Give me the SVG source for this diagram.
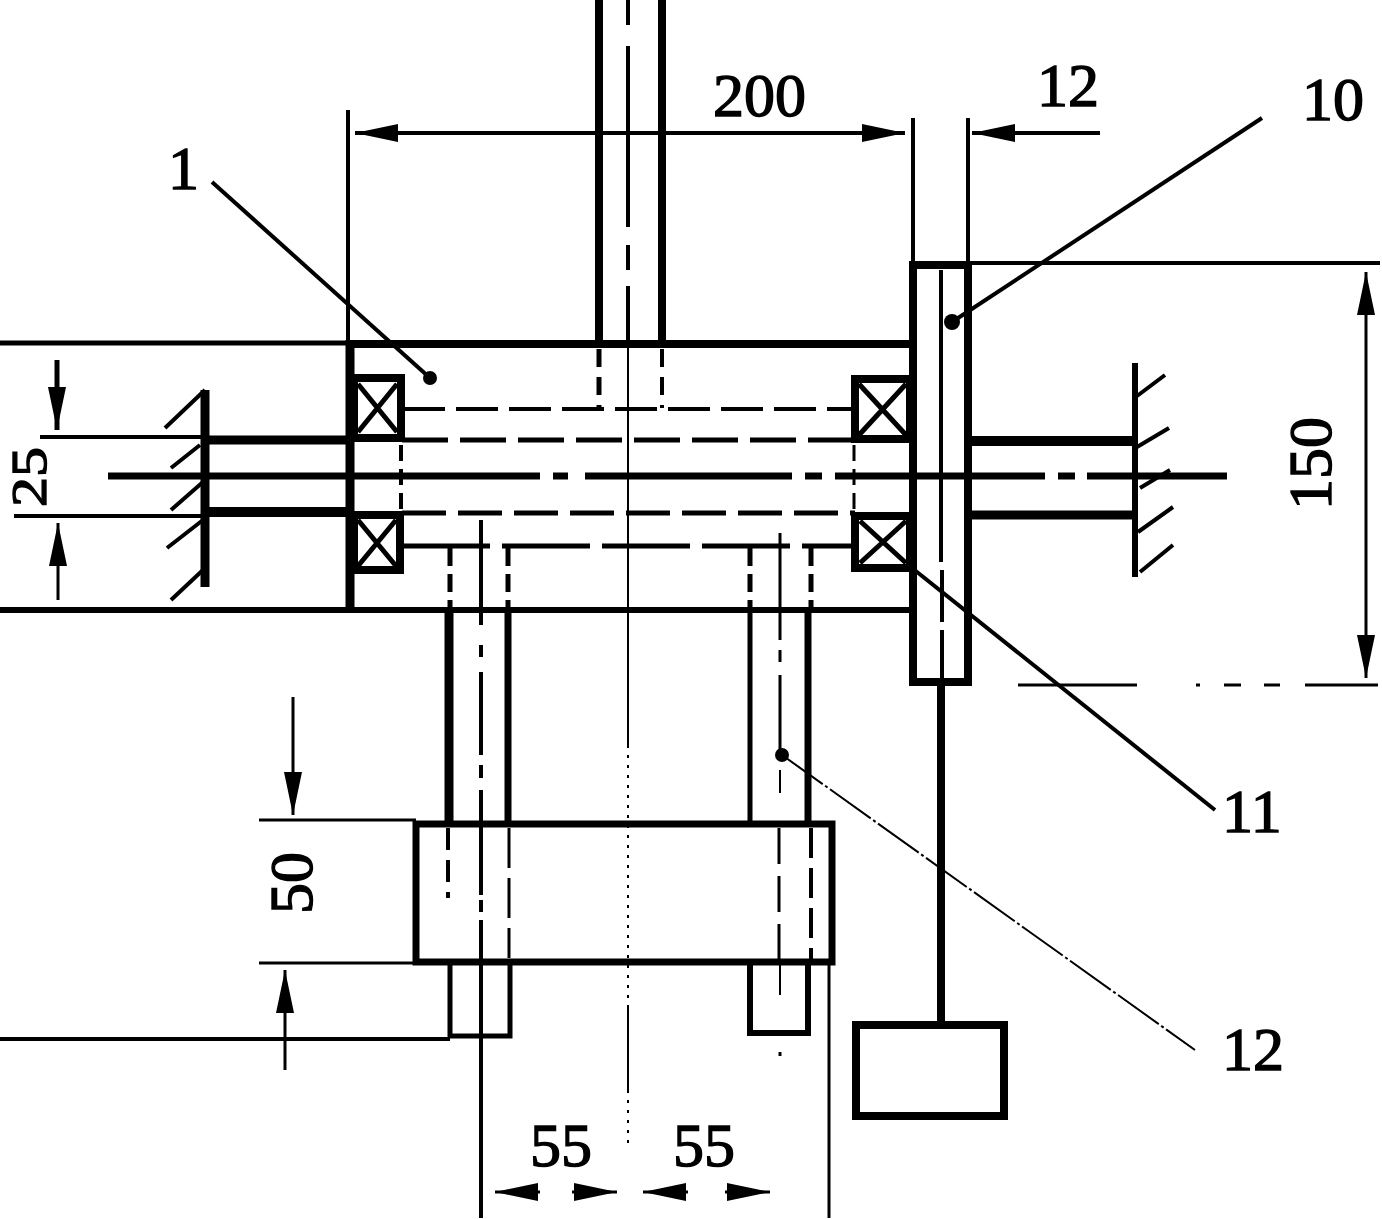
<svg xmlns="http://www.w3.org/2000/svg" width="1382" height="1219" viewBox="0 0 1382 1219">
<defs>
<marker id="ah" markerUnits="userSpaceOnUse" markerWidth="44" markerHeight="22" refX="43" refY="11" orient="auto-start-reverse"><path d="M0 2 L43 11 L0 20 Z" fill="#000"/></marker>
</defs>
<style>
line,path,rect{stroke:#000;fill:none;stroke-linecap:butt}
marker path{stroke:none;fill:#000}
.t1{stroke-width:2}.t2{stroke-width:3}.t3{stroke-width:4}.t5{stroke-width:5}.t6{stroke-width:6}.t7{stroke-width:7}.t8{stroke-width:8}.t9{stroke-width:9}.t10{stroke-width:10}
.a{marker-end:url(#ah)}
text{font-family:"Liberation Serif","Times New Roman",serif;font-size:62px;fill:#000;stroke:#000;stroke-width:1.4}
</style>
<rect width="1382" height="1219" fill="#fff" style="stroke:none"/>
<g id="housing">
<line class="t5" x1="0" y1="343" x2="346" y2="343"/><line class="t8" x1="346" y1="344" x2="913" y2="344"/>
<line class="t6" x1="0" y1="610" x2="913" y2="610"/>
<line class="t9" x1="350" y1="340" x2="350" y2="610"/>
<line class="t3" x1="348" y1="110" x2="348" y2="342"/>
<line class="t3" x1="403" y1="409" x2="855" y2="409" stroke-dasharray="42 11"/>
<line class="t5" x1="402" y1="440" x2="855" y2="440" stroke-dasharray="46 12"/>
<line class="t5" x1="402" y1="513" x2="855" y2="513" stroke-dasharray="44 12"/>
<line class="t5" x1="402" y1="546" x2="855" y2="546" stroke-dasharray="88 12"/>
<line class="t3" x1="401" y1="445" x2="401" y2="512" stroke-dasharray="16 8"/>
<line class="t2" x1="854" y1="445" x2="854" y2="512" stroke-dasharray="16 8"/>
</g>
<g id="top-shaft">
<line class="t8" x1="599" y1="0" x2="599" y2="341"/><line class="t8" x1="662" y1="0" x2="662" y2="341"/>
<line class="t5" x1="599" y1="349" x2="599" y2="408" stroke-dasharray="18 10"/>
<line class="t3" x1="662" y1="349" x2="662" y2="408" stroke-dasharray="18 10"/>
</g>
<g id="bearing-tl"><rect class="t8" x="354" y="378" width="47" height="60"/><path class="t5" d="M358 384L397 432M397 384L358 432"/></g>
<g id="bearing-bl"><rect class="t8" x="354" y="515" width="46" height="55"/><path class="t5" d="M358 520L396 566M396 520L358 566"/></g>
<g id="bearing-tr"><rect class="t8" x="855" y="379" width="55" height="60"/><path class="t5" d="M859 384L906 435M906 384L859 435"/></g>
<g id="bearing-br"><rect class="t8" x="855" y="516" width="55" height="52"/><path class="t5" d="M860 521L906 563M906 521L860 563"/></g>
<g id="gear-10">
<path class="t8" d="M913 682V265H968V682H913Z"/>
<line class="t3" x1="941" y1="270" x2="941" y2="562"/>
<line class="t3" x1="942" y1="570" x2="942" y2="680" stroke-dasharray="52 8"/>
<line class="t3" x1="913" y1="118" x2="913" y2="262"/><line class="t3" x1="968" y1="118" x2="968" y2="262"/>
</g>
<g id="left-support">
<line class="t9" x1="205" y1="440" x2="350" y2="440"/><line class="t10" x1="205" y1="512" x2="350" y2="512"/>
<line class="t9" x1="205" y1="390" x2="205" y2="587"/>
<path class="t3" d="M205 390L165 428M200 445L171 468M203 482L171 510M203 520L167 548M203 570L171 600"/>
</g>
<g id="right-support">
<line class="t10" x1="968" y1="441" x2="1135" y2="441"/><line class="t9" x1="968" y1="515" x2="1135" y2="515"/>
<line class="t6" x1="1135" y1="363" x2="1135" y2="577"/>
<path class="t3" d="M1137 396L1165 375M1137 447L1169 428M1140 488L1170 470M1138 532L1173 507M1140 572L1173 545"/>
</g>
<g id="lower-shafts">
<line class="t9" x1="449" y1="610" x2="449" y2="822"/><line class="t7" x1="508" y1="610" x2="508" y2="822"/>
<line class="t5" x1="450" y1="548" x2="450" y2="608" stroke-dasharray="18 8"/><line class="t5" x1="508" y1="548" x2="508" y2="608" stroke-dasharray="18 8"/>
<line class="t5" x1="750" y1="548" x2="750" y2="608" stroke-dasharray="18 8"/><line class="t5" x1="811" y1="548" x2="811" y2="608" stroke-dasharray="18 8"/>
<line class="t5" x1="750" y1="610" x2="750" y2="824"/><line class="t7" x1="808" y1="610" x2="808" y2="824"/>
</g>
<g id="carrier">
<rect class="t7" x="416" y="824" width="416" height="138"/>
<line class="t3" x1="448" y1="828" x2="448" y2="898" stroke-dasharray="22 10"/>
<line class="t2" x1="509" y1="828" x2="509" y2="958" stroke-dasharray="40 10"/>
<line class="t2" x1="779" y1="828" x2="779" y2="960" stroke-dasharray="36 12"/>
<line class="t3" x1="811" y1="828" x2="811" y2="960" stroke-dasharray="30 10"/>
<path class="t5" d="M450 964V1036H510V964"/>
<path class="t6" d="M750 964V1033H808V964"/>
<line class="t3" x1="0" y1="1039" x2="450" y2="1039"/>
</g>
<g id="load-block">
<line class="t8" x1="941" y1="682" x2="941" y2="1025"/>
<rect class="t8" x="856" y="1025" width="148" height="91"/>
</g>
<g id="connectors">
<path class="t7" d="M108 476H540M553 476H568M585 476H792M805 476H822M835 476H1045M1058 476H1075M1087 476H1227"/>
<path class="t3" d="M628 0V25M628 46V227M628 245V270M628 286V345"/>
<line class="t1" x1="628" y1="345" x2="628" y2="745"/>
<line class="t1" x1="628" y1="745" x2="628" y2="1005" stroke-dasharray="3 7"/>
<line class="t1" x1="628" y1="1005" x2="628" y2="1090"/>
<line class="t1" x1="628" y1="1090" x2="628" y2="1145" stroke-dasharray="3 7"/>
<path class="t3" d="M481 520V625M481 645V657M481 672V755M481 765V778M481 790V895M481 900V912M481 920V1218"/>
<path class="t2" d="M780 533V640M780 650V662M780 675V755"/>
<line class="t1" x1="780" y1="770" x2="780" y2="793"/>
<line class="t1" x1="780" y1="965" x2="780" y2="995"/><line class="t2" x1="780" y1="1052" x2="780" y2="1056"/>
<line class="t2" x1="829" y1="962" x2="829" y2="1218"/>
<line class="t3" x1="212" y1="182" x2="430" y2="378"/><circle cx="430" cy="378" r="7"/>
<line class="t3" x1="1262" y1="118" x2="952" y2="322"/><circle cx="952" cy="322" r="8"/>
<line class="t3" x1="912" y1="568" x2="1215" y2="810"/>
<line class="t1" x1="782" y1="755" x2="1195" y2="1050" stroke-dasharray="50 3 3 3"/><circle cx="782" cy="755" r="7"/>
<line class="t3 a" x1="628" y1="133" x2="355" y2="133"/><line class="t3 a" x1="628" y1="133" x2="905" y2="133"/>
<line class="t3 a" x1="1100" y1="133" x2="972" y2="133"/>
<line class="t3" x1="968" y1="263" x2="1380" y2="263"/>
<path class="t2" d="M1018 685H1137M1196 685H1200M1224 685H1241M1264 685H1280M1305 685H1378"/>
<line class="t2 a" x1="1366" y1="470" x2="1366" y2="272"/><line class="t2 a" x1="1366" y1="470" x2="1366" y2="678"/>
<line class="t3" x1="40" y1="437" x2="205" y2="437"/><line class="t3" x1="14" y1="516" x2="205" y2="516"/>
<line class="t5 a" x1="57" y1="360" x2="57" y2="430"/><line class="t2 a" x1="58" y1="600" x2="58" y2="523"/>
<line class="t2" x1="259" y1="820" x2="416" y2="820"/><line class="t2" x1="259" y1="963" x2="416" y2="963"/>
<line class="t2 a" x1="293" y1="697" x2="293" y2="815"/><line class="t2 a" x1="285" y1="1070" x2="285" y2="970"/>
<line class="t2 a" x1="540" y1="1192" x2="495" y2="1192"/><line class="t2 a" x1="572" y1="1192" x2="617" y2="1192"/>
<line class="t2 a" x1="688" y1="1192" x2="643" y2="1192"/><line class="t2 a" x1="725" y1="1192" x2="770" y2="1192"/>
</g>
<g id="labels">
<text x="713" y="116">200</text>
<text x="1037" y="106">12</text>
<text x="1302" y="120">10</text>
<text x="168" y="189">1</text>
<text x="1222" y="832">11</text>
<text x="1222" y="1070">12</text>
<text x="530" y="1166">55</text>
<text x="673" y="1166">55</text>
<text transform="translate(46,507) rotate(-90)" style="font-size:51px" textLength="60" lengthAdjust="spacingAndGlyphs">25</text>
<text transform="translate(312,914) rotate(-90)">50</text>
<text transform="translate(1331,510) rotate(-90)">150</text>
</g>
</svg>
